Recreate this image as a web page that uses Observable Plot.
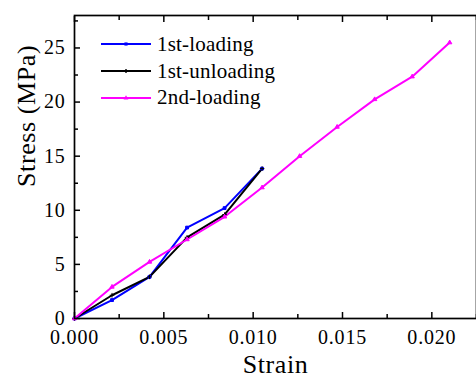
<!DOCTYPE html>
<html>
<head>
<meta charset="utf-8">
<script src="https://cdn.jsdelivr.net/npm/d3@7"></script>
<script src="https://cdn.jsdelivr.net/npm/@observablehq/plot@0.6"></script>
<style>
  html, body { margin: 0; padding: 0; background: #fff; }
  #chart { position: relative; width: 476px; height: 377px; overflow: hidden; font-family: "Liberation Serif", "Times New Roman", serif; }
  #chart svg text { font-family: "Liberation Serif", "Times New Roman", serif; }
  #chart svg .tick-labels text { letter-spacing: 0.8px; }
  #chart svg .titles text { letter-spacing: 0.6px; }
  #legend { position: absolute; left: 101px; top: 31px; font-size: 21px; color: #000; letter-spacing: 0.2px; }
  #legend .row { display: flex; align-items: center; height: 26.7px; }
  #legend svg { display: block; margin-right: 6px; }
</style>
</head>
<body>
<div id="chart"></div>
<script>
// Strain steps shared by all loading cycles
const strain = [0, 0.0021, 0.0042, 0.0063, 0.0084, 0.0105, 0.0126, 0.0147, 0.0168, 0.0189, 0.021];

// Stress (MPa) per cycle
const loading1 = [0, 1.7, 3.85, 8.4, 10.2, 13.85];
const unloading1 = [0, 2.15, 3.85, 7.5, 9.6, 13.85];
const loading2 = [0, 2.92, 5.23, 7.3, 9.4, 12.1, 15.0, 17.7, 20.25, 22.35, 25.5];

const seriesNames = ["1st-loading", "1st-unloading", "2nd-loading"];
const seriesColors = ["#0000ff", "#000000", "#ff00ff"];
const seriesSymbols = ["square", "plus", "triangle"];

// Axis ticks
const xMajor = [0, 0.005, 0.01, 0.015, 0.02];
const xMinor = [0.0025, 0.0075, 0.0125, 0.0175, 0.0225];
const yMajor = [0, 5, 10, 15, 20, 25];
const yMinor = [2.5, 7.5, 12.5, 17.5, 22.5, 27.5];

const stressSets = [loading1, unloading1, loading2];
const rows = stressSets.flatMap((vals, i) =>
  vals.map((s, j) => ({series: seriesNames[i], strain: strain[j], stress: s}))
);

const font = "Liberation Serif, Times New Roman, serif";
const blank = () => "";

const chart = Plot.plot({
  width: 476,
  height: 377,
  marginLeft: 74,
  marginRight: 0,
  marginTop: 15,
  marginBottom: 59,
  style: {fontFamily: font, background: "#fff", color: "#000"},
  x: {domain: [0, 0.0225]},
  y: {domain: [0, 28]},
  color: {domain: seriesNames, range: seriesColors},
  symbol: {domain: seriesNames, range: seriesSymbols},
  marks: [
    // inward major / minor ticks on all four sides
    Plot.axisX({anchor: "bottom", ticks: xMajor, tickSize: 6, dy: -6, tickFormat: blank, label: null, strokeWidth: 1.5}),
    Plot.axisX({anchor: "bottom", ticks: xMinor, tickSize: 4, dy: -4, tickFormat: blank, label: null, strokeWidth: 1.5}),
    Plot.axisX({anchor: "top", ticks: xMajor, tickSize: 6, dy: 6, tickFormat: blank, label: null, strokeWidth: 1.5}),
    Plot.axisX({anchor: "top", ticks: xMinor, tickSize: 4, dy: 4, tickFormat: blank, label: null, strokeWidth: 1.5}),
    Plot.axisY({anchor: "left", ticks: yMajor, tickSize: 6, dx: 6, tickFormat: blank, label: null, strokeWidth: 1.5}),
    Plot.axisY({anchor: "left", ticks: yMinor, tickSize: 4, dx: 4, tickFormat: blank, label: null, strokeWidth: 1.5}),
    // tick labels
    Plot.axisX({anchor: "bottom", ticks: xMajor, tickSize: 0, tickPadding: 11, tickFormat: d3.format(".3f"), label: null, fontSize: 20, className: "tick-labels"}),
    Plot.axisY({anchor: "left", ticks: yMajor, tickSize: 0, tickPadding: 9, tickFormat: d3.format("d"), label: null, fontSize: 20, className: "tick-labels"}),
    // axis titles
    Plot.text(["Strain"], {frameAnchor: "bottom", dy: 54, text: d => d, fontSize: 26, lineAnchor: "bottom", className: "titles"}),
    Plot.text(["Stress (MPa)"], {frameAnchor: "left", dx: -48, dy: 20, rotate: -90, text: d => d, fontSize: 26, className: "titles"}),
    // curves
    Plot.line(rows, {x: "strain", y: "stress", z: "series", stroke: "series", strokeWidth: 2}),
    Plot.dot(rows, {x: "strain", y: "stress", stroke: "series", fill: "series", symbol: "series", r: 1.6, strokeWidth: 1}),
    Plot.frame({stroke: "#000", strokeWidth: 1.7})
  ]
});

const root = document.getElementById("chart");
root.appendChild(chart);

// legend inside the plot area
const legend = document.createElement("div");
legend.id = "legend";
seriesNames.forEach((name, i) => {
  const row = document.createElement("div");
  row.className = "row";
  const sw = d3.create("svg").attr("width", 50).attr("height", 8);
  sw.append("line").attr("x1", 0).attr("x2", 50).attr("y1", 4).attr("y2", 4)
    .attr("stroke", seriesColors[i]).attr("stroke-width", 2.2);
  sw.append("path").attr("transform", "translate(25,4)")
    .attr("d", d3.symbol(seriesSymbols[i] === "plus" ? d3.symbolCross : seriesSymbols[i] === "square" ? d3.symbolSquare : d3.symbolTriangle, 10)())
    .attr("fill", seriesColors[i]);
  row.appendChild(sw.node());
  const label = document.createElement("span");
  label.textContent = name;
  row.appendChild(label);
  legend.appendChild(row);
});
root.appendChild(legend);
</script>
</body>
</html>
